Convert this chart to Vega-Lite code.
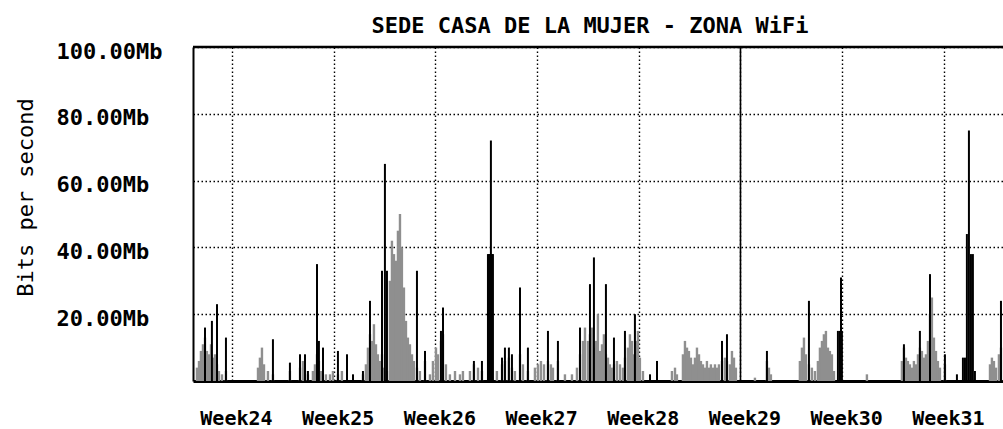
{
  "$schema": "https://vega.github.io/schema/vega-lite/v6.json",
  "width": 810,
  "height": 334,
  "autosize": {"type": "none"},
  "padding": {"left": 193, "top": 47, "right": 0, "bottom": 48},
  "background": "white",
  "title": {"text": "SEDE CASA DE LA MUJER - ZONA WiFi", "font": "DejaVu Sans Mono", "fontSize": 22, "fontWeight": "bold", "color": "black", "anchor": "middle", "dx": -8, "dy": 19, "offset": 4, "baseline": "alphabetic"},
  "config": {
    "view": {"stroke": null},
    "axisX": {"domainColor": "black", "domainWidth": 3, "ticks": false, "tickSize": 0, "labelPadding": 37, "labelBaseline": "middle", "labelOffset": 4, "labelFont": "DejaVu Sans Mono", "labelFontSize": 20, "labelFontWeight": "bold", "labelColor": "black", "labelFlush": false, "labelOverlap": false, "gridColor": "black", "gridDash": [1.5, 2.5], "gridWidth": 1.4, "gridOpacity": 1},
    "axisY": {"domainColor": "black", "domainWidth": 2, "ticks": false, "tickSize": 0, "labelAlign": "left", "labelBaseline": "middle", "labelPadding": 137, "labelOffset": 4, "labelFont": "DejaVu Sans Mono", "labelFontSize": 22, "labelFontWeight": "bold", "labelColor": "black", "labelFlush": false, "labelOverlap": false, "gridColor": "black", "gridDash": [1.5, 2.5], "gridWidth": 1.4, "gridOpacity": 1, "titleFont": "DejaVu Sans Mono", "titleFontSize": 22, "titleFontWeight": "normal", "titleColor": "black", "titleX": -168, "titleY": 150, "titleAngle": -90, "titleAlign": "center", "titleBaseline": "middle"}
  },
  "data": {"values": [
    {"t": 23.656, "in": 4}, {"t": 23.676, "in": 6}, {"t": 23.695, "in": 9}, {"t": 23.715, "in": 11},
    {"t": 23.735, "in": 13, "out": 16}, {"t": 23.754, "in": 9}, {"t": 23.774, "in": 8}, {"t": 23.794, "in": 11},
    {"t": 23.803, "out": 18}, {"t": 23.813, "in": 7}, {"t": 23.833, "in": 8}, {"t": 23.853, "in": 5, "out": 23},
    {"t": 23.872, "in": 3}, {"t": 23.902, "in": 2}, {"t": 23.941, "in": 3, "out": 13},
    {"t": 24.256, "in": 4}, {"t": 24.275, "in": 7}, {"t": 24.295, "in": 10}, {"t": 24.315, "in": 5},
    {"t": 24.354, "in": 3}, {"t": 24.403, "in": 2, "out": 12.5}, {"t": 24.570, "in": 3, "out": 5.5},
    {"t": 24.669, "in": 4, "out": 8}, {"t": 24.698, "in": 6}, {"t": 24.718, "in": 3, "out": 8},
    {"t": 24.747, "in": 2, "out": 3}, {"t": 24.796, "in": 3}, {"t": 24.816, "in": 5},
    {"t": 24.836, "in": 8, "out": 35}, {"t": 24.855, "in": 6, "out": 12}, {"t": 24.875, "in": 3},
    {"t": 24.895, "out": 10}, {"t": 24.924, "in": 2}, {"t": 24.964, "in": 2}, {"t": 24.993, "in": 3},
    {"t": 25.042, "in": 2, "out": 9}, {"t": 25.081, "in": 3}, {"t": 25.131, "out": 8}, {"t": 25.190, "out": 2},
    {"t": 25.288, "in": 2, "out": 3}, {"t": 25.317, "in": 5}, {"t": 25.337, "in": 10},
    {"t": 25.357, "in": 14, "out": 24}, {"t": 25.376, "in": 12}, {"t": 25.396, "in": 17}, {"t": 25.416, "in": 11},
    {"t": 25.435, "in": 8}, {"t": 25.455, "in": 6}, {"t": 25.475, "in": 8, "out": 33}, {"t": 25.494, "in": 4},
    {"t": 25.504, "out": 65}, {"t": 25.524, "in": 3, "out": 33}, {"t": 25.553, "in": 30}, {"t": 25.573, "in": 42},
    {"t": 25.593, "in": 38}, {"t": 25.612, "in": 36}, {"t": 25.632, "in": 45}, {"t": 25.652, "in": 50},
    {"t": 25.671, "in": 40}, {"t": 25.691, "in": 28}, {"t": 25.711, "in": 18}, {"t": 25.730, "in": 13},
    {"t": 25.750, "in": 11}, {"t": 25.770, "in": 8}, {"t": 25.789, "in": 6}, {"t": 25.819, "in": 4, "out": 33},
    {"t": 25.848, "in": 3}, {"t": 25.898, "in": 6, "out": 9}, {"t": 25.947, "in": 2}, {"t": 25.976, "in": 6},
    {"t": 26.006, "in": 10}, {"t": 26.025, "in": 8}, {"t": 26.055, "in": 12, "out": 15}, {"t": 26.075, "in": 14, "out": 22},
    {"t": 26.104, "in": 5}, {"t": 26.143, "in": 2}, {"t": 26.193, "in": 3}, {"t": 26.242, "in": 2}, {"t": 26.271, "in": 3},
    {"t": 26.340, "in": 3}, {"t": 26.379, "in": 5, "out": 6}, {"t": 26.419, "in": 4}, {"t": 26.458, "in": 3, "out": 6},
    {"t": 26.517, "out": 38}, {"t": 26.527, "out": 38}, {"t": 26.537, "out": 38}, {"t": 26.546, "out": 72},
    {"t": 26.556, "out": 38}, {"t": 26.566, "out": 38}, {"t": 26.605, "in": 3}, {"t": 26.655, "in": 5, "out": 7},
    {"t": 26.684, "in": 6, "out": 10}, {"t": 26.723, "in": 7, "out": 10}, {"t": 26.753, "in": 4, "out": 8},
    {"t": 26.782, "in": 3}, {"t": 26.832, "in": 8, "out": 28}, {"t": 26.861, "in": 5}, {"t": 26.910, "in": 3, "out": 10},
    {"t": 26.979, "in": 4}, {"t": 27.009, "in": 5}, {"t": 27.038, "in": 6}, {"t": 27.068, "in": 5},
    {"t": 27.107, "in": 6, "out": 15}, {"t": 27.136, "in": 5}, {"t": 27.156, "in": 4}, {"t": 27.205, "in": 6, "out": 12},
    {"t": 27.274, "in": 2}, {"t": 27.343, "in": 2}, {"t": 27.392, "in": 4}, {"t": 27.422, "in": 8, "out": 16},
    {"t": 27.451, "in": 12}, {"t": 27.471, "in": 16}, {"t": 27.500, "in": 12}, {"t": 27.520, "in": 14, "out": 29},
    {"t": 27.539, "in": 16}, {"t": 27.559, "in": 10, "out": 37}, {"t": 27.579, "in": 12}, {"t": 27.598, "in": 20},
    {"t": 27.618, "in": 9}, {"t": 27.638, "in": 11}, {"t": 27.657, "in": 14}, {"t": 27.677, "in": 8, "out": 29},
    {"t": 27.697, "in": 7}, {"t": 27.716, "in": 5}, {"t": 27.736, "in": 4}, {"t": 27.756, "in": 5, "out": 13},
    {"t": 27.785, "in": 6}, {"t": 27.815, "in": 5}, {"t": 27.844, "in": 4}, {"t": 27.864, "in": 7, "out": 15},
    {"t": 27.893, "in": 10}, {"t": 27.913, "in": 14}, {"t": 27.933, "in": 12}, {"t": 27.952, "in": 8},
    {"t": 27.962, "out": 20}, {"t": 27.972, "in": 12}, {"t": 27.992, "in": 15}, {"t": 28.011, "in": 7},
    {"t": 28.041, "in": 3}, {"t": 28.110, "out": 2}, {"t": 28.179, "out": 6},
    {"t": 28.326, "in": 3}, {"t": 28.356, "in": 4}, {"t": 28.375, "in": 2},
    {"t": 28.434, "in": 8}, {"t": 28.454, "in": 12}, {"t": 28.474, "in": 10}, {"t": 28.493, "in": 9},
    {"t": 28.513, "in": 7}, {"t": 28.533, "in": 5}, {"t": 28.552, "in": 7}, {"t": 28.572, "in": 10},
    {"t": 28.592, "in": 8}, {"t": 28.611, "in": 6}, {"t": 28.631, "in": 5}, {"t": 28.650, "in": 4},
    {"t": 28.670, "in": 6}, {"t": 28.690, "in": 4}, {"t": 28.709, "in": 5}, {"t": 28.729, "in": 4},
    {"t": 28.749, "in": 5}, {"t": 28.768, "in": 4}, {"t": 28.788, "in": 5}, {"t": 28.818, "in": 6, "out": 12},
    {"t": 28.847, "in": 7}, {"t": 28.867, "in": 6, "out": 14}, {"t": 28.896, "in": 5}, {"t": 28.916, "in": 9},
    {"t": 28.936, "in": 7}, {"t": 28.955, "in": 4},
    {"t": 29.142, "in": 1}, {"t": 29.260, "in": 6, "out": 9}, {"t": 29.280, "in": 4}, {"t": 29.299, "in": 2},
    {"t": 29.584, "in": 6}, {"t": 29.604, "in": 10}, {"t": 29.624, "in": 13}, {"t": 29.643, "in": 8},
    {"t": 29.673, "in": 5, "out": 24}, {"t": 29.702, "in": 4}, {"t": 29.732, "in": 3}, {"t": 29.761, "in": 6},
    {"t": 29.781, "in": 10}, {"t": 29.801, "in": 12}, {"t": 29.820, "in": 14}, {"t": 29.840, "in": 15},
    {"t": 29.860, "in": 10}, {"t": 29.879, "in": 9}, {"t": 29.899, "in": 8}, {"t": 29.919, "in": 3},
    {"t": 29.958, "out": 15}, {"t": 29.978, "out": 15}, {"t": 29.988, "out": 31}, {"t": 29.997, "out": 15},
    {"t": 30.243, "in": 2},
    {"t": 30.587, "in": 6}, {"t": 30.607, "in": 10, "out": 11}, {"t": 30.627, "in": 7}, {"t": 30.646, "in": 6},
    {"t": 30.666, "in": 5}, {"t": 30.686, "in": 4}, {"t": 30.705, "in": 6}, {"t": 30.725, "in": 5},
    {"t": 30.745, "in": 8}, {"t": 30.764, "in": 10, "out": 15}, {"t": 30.784, "in": 9}, {"t": 30.804, "in": 7},
    {"t": 30.823, "in": 8}, {"t": 30.843, "in": 12}, {"t": 30.863, "in": 20, "out": 32}, {"t": 30.882, "in": 25},
    {"t": 30.902, "in": 13}, {"t": 30.922, "in": 9}, {"t": 30.941, "in": 6}, {"t": 30.961, "in": 4},
    {"t": 31.010, "in": 5, "out": 8}, {"t": 31.128, "out": 2}, {"t": 31.187, "out": 7}, {"t": 31.207, "out": 7},
    {"t": 31.226, "out": 44}, {"t": 31.246, "out": 75}, {"t": 31.266, "out": 38}, {"t": 31.285, "out": 38},
    {"t": 31.305, "out": 3}, {"t": 31.453, "in": 5}, {"t": 31.472, "in": 7}, {"t": 31.492, "in": 6},
    {"t": 31.512, "in": 4}, {"t": 31.541, "in": 8}, {"t": 31.561, "in": 10, "out": 24}
  ]},
  "layer": [
    {
      "transform": [{"filter": "datum['in'] != null"}],
      "mark": {"type": "rule", "strokeWidth": 2.4, "color": "#8f8f8f"},
      "encoding": {
        "x": {"field": "t", "type": "quantitative", "title": null, "scale": {"domain": [23.617, 31.581], "nice": false, "zero": false},
              "axis": {"values": [24, 25, 26, 27, 28, 29, 30, 31], "labelExpr": "'Week' + datum.value", "grid": true}},
        "y": {"field": "in", "type": "quantitative", "title": "Bits per second", "scale": {"domain": [0, 100], "nice": false},
              "axis": {"values": [20, 40, 60, 80, 100], "labelExpr": "format(datum.value, '.2f') + 'Mb'", "grid": true}},
        "y2": {"datum": 0}
      }
    },
    {
      "transform": [{"filter": "datum.out != null"}],
      "mark": {"type": "rule", "strokeWidth": 2, "color": "black"},
      "encoding": {
        "x": {"field": "t", "type": "quantitative", "title": null},
        "y": {"field": "out", "type": "quantitative", "title": "Bits per second"},
        "y2": {"datum": 0}
      }
    },
    {
      "data": {"values": [{"t": 29}]},
      "mark": {"type": "rule", "strokeWidth": 1.6, "color": "black"},
      "encoding": {"x": {"field": "t", "type": "quantitative", "title": null}}
    },
    {
      "data": {"values": [{"v": 100}]},
      "mark": {"type": "rule", "strokeWidth": 2.5, "color": "black"},
      "encoding": {"y": {"field": "v", "type": "quantitative", "title": "Bits per second"}}
    }
  ]
}
